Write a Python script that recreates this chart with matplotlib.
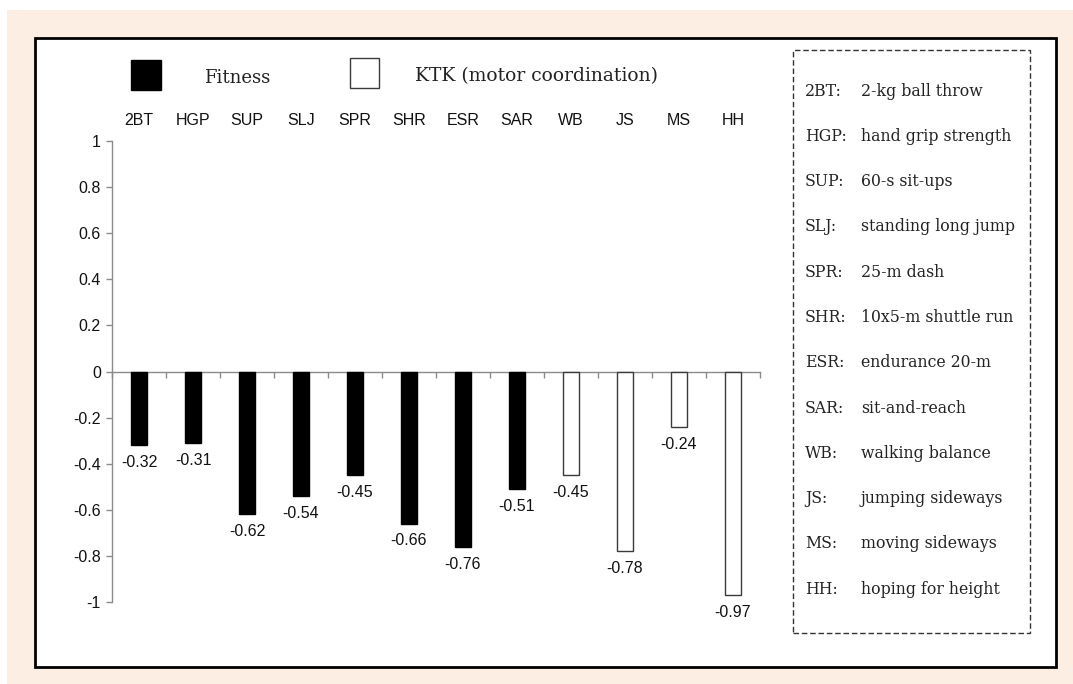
import numpy as np
import matplotlib
matplotlib.use("Agg")
import matplotlib.pyplot as plt
from matplotlib.patches import Rectangle

plt.rcParams['axes.unicode_minus'] = False

# data
codes = ['2BT', 'HGP', 'SUP', 'SLJ', 'SPR', 'SHR', 'ESR', 'SAR', 'WB', 'JS', 'MS', 'HH']
values = [-0.32, -0.31, -0.62, -0.54, -0.45, -0.66, -0.76, -0.51, -0.45, -0.78, -0.24, -0.97]
groups = ['Fitness'] * 8 + ['KTK'] * 4
descriptions = ['2-kg ball throw', 'hand grip strength', '60-s sit-ups', 'standing long jump',
                '25-m dash', '10x5-m shuttle run', 'endurance 20-m', 'sit-and-reach',
                'walking balance', 'jumping sideways', 'moving sideways', 'hoping for height']
yticks = [1, 0.8, 0.6, 0.4, 0.2, 0, -0.2, -0.4, -0.6, -0.8, -1]

W, H = 1073, 684
fig = plt.figure(figsize=(W / 100, H / 100), dpi=100, facecolor='white')

def px(x, y):
    # pixel position (top-left origin) -> figure fraction
    return x / W, 1 - y / H

def box(x0, y0, x1, y1, **kw):
    fx, fy = px(x0, y1)
    r = Rectangle((fx, fy), (x1 - x0) / W, (y1 - y0) / H, transform=fig.transFigure, **kw)
    fig.patches.append(r)
    return r

# page background and framed panel
box(7, 10, W + 5, H + 5, facecolor='#fdeee4', edgecolor='none', zorder=0)
box(35, 38, 1056, 667, facecolor='white', edgecolor='black', linewidth=2, zorder=1)

# axes: y=1 at 141px, y=-1 at 602px, x from 112 to 760px
l, b = px(112, 602)
ax = fig.add_axes([l, b, 648 / W, (602 - 141) / H], zorder=3)
ax.set_facecolor('none')

x = np.arange(len(codes))
colors = ['black' if g == 'Fitness' else 'white' for g in groups]
edges = ['black' if g == 'Fitness' else '#3a3a3a' for g in groups]
ax.bar(x, values, width=0.29, color=colors, edgecolor=edges, linewidth=1.0, zorder=3)

for xi, v in zip(x, values):
    ax.annotate(f'{v:.2f}', (xi, v), xytext=(0, -12.5), textcoords='offset points',
                ha='center', va='center', fontsize=11.5, family='Liberation Sans', color='#111111')

for xi, c in zip(x, codes):
    ax.text(xi, 1.09, c, ha='center', va='center', fontsize=11.5,
            family='Liberation Sans', color='#111111')

ax.set_xlim(-0.5, len(codes) - 0.5)
ax.set_ylim(-1, 1)
ax.set_yticks(yticks)
ax.set_yticklabels([f'{t:g}' for t in yticks], family='Liberation Sans', fontsize=11.5, color='#111111')
ax.set_xticks(np.arange(-0.5, len(codes), 1.0))
ax.set_xticklabels([])
ax.tick_params(axis='y', direction='out', length=4, width=1, color='#8a8a8a', pad=4)
ax.tick_params(axis='x', direction='out', length=4, width=1, color='#8a8a8a')
ax.spines['bottom'].set_position(('data', 0))
for s in ['top', 'right']:
    ax.spines[s].set_visible(False)
for s in ['left', 'bottom']:
    ax.spines[s].set_color('#8a8a8a')
    ax.spines[s].set_linewidth(1)

# legend at top
box(131, 60, 161, 90, facecolor='black', edgecolor='black', linewidth=1, zorder=4)
fig.text(*px(204, 78), 'Fitness', ha='left', va='center', fontsize=13,
         family='DejaVu Serif', color='#222222', zorder=4)
box(350, 58, 379, 88, facecolor='white', edgecolor='#3a3a3a', linewidth=1, zorder=4)
fig.text(*px(415, 76), 'KTK (motor coordination)', ha='left', va='center', fontsize=13.5,
         family='DejaVu Serif', color='#222222', zorder=4)

# abbreviations box
box(793, 50, 1030, 633, facecolor='none', edgecolor='#333333', linewidth=1,
    linestyle=(0, (4, 2)), zorder=4)
for i, (c, d) in enumerate(zip(codes, descriptions)):
    yy = 91 + i * 45.3
    fig.text(*px(805, yy), c + ':', ha='left', va='center', fontsize=11.3,
             family='DejaVu Serif', color='#222222', zorder=4)
    fig.text(*px(861, yy), d, ha='left', va='center', fontsize=11.3,
             family='DejaVu Serif', color='#222222', zorder=4)

fig.savefig('out.png', dpi=100, facecolor=fig.get_facecolor())
